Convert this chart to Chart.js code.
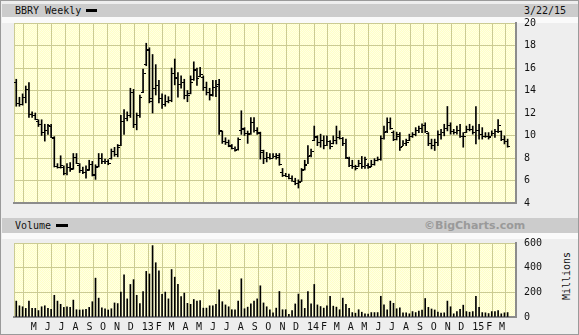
<!DOCTYPE html>
<html>
<head>
<meta charset="utf-8">
<script src="https://cdn.jsdelivr.net/npm/chart.js@4"></script>
<style>
  html, body { margin: 0; padding: 0; }
  body { width: 579px; height: 335px; position: relative; background: #eeeeee; overflow: hidden;
         font-family: 'DejaVu Sans Mono', monospace; font-size: 10px; color: #111; }
  .abs { position: absolute; }
  #frame { left: 0; top: 0; width: 577px; height: 333px; border: 1px solid #9a9a9a; }
  .band { left: 2px; width: 576px; background: #cccccc; }
  .strip { left: 2px; width: 576px; background: #fafafa; }
  .dash { background: #000; }
  canvas { position: absolute; left: 0; }
</style>
</head>
<body>
<div id="frame" class="abs"></div>
<div class="abs band" style="top:4px;height:13px;"></div>
<div class="abs strip" style="top:17px;height:6px;"></div>
<div class="abs" style="left:15px;top:4px;line-height:13px;">BBRY Weekly</div>
<div class="abs dash" style="left:86px;top:9px;width:11px;height:3px;"></div>
<div class="abs" style="left:524px;top:4px;line-height:13px;">3/22/15</div>

<div class="abs band" style="top:218px;height:15px;"></div>
<div class="abs strip" style="top:233px;height:6px;"></div>
<div class="abs" style="left:15px;top:218px;line-height:15px;">Volume</div>
<div class="abs dash" style="left:56px;top:224px;width:12px;height:3px;"></div>
<div class="abs" style="left:424px;top:218px;line-height:15px;font-family:'DejaVu Sans',sans-serif;font-weight:bold;font-size:11px;color:#9a9a9a;">©BigCharts.com</div>
<div class="abs" style="left:542px;top:270px;width:50px;line-height:12px;text-align:center;transform:rotate(-90deg);">Millions</div>

<canvas id="price" width="579" height="217" style="top:0;"></canvas>
<canvas id="volume" width="579" height="106" style="top:229px;"></canvas>

<script>
// weekly bars, first week ending 2012-03-30
const weekStart = '2012-03-30';

const highs = [
  15.0, 13.4, 13.7, 14.4, 14.7, 12.1, 12.0, 11.4, 11.4, 11.0,
  11.0, 11.0, 9.9, 7.5, 8.2, 7.3, 7.5, 7.6, 8.4, 8.4,
  7.5, 7.2, 7.3, 7.8, 7.7, 7.4, 8.4, 8.4, 7.9, 7.85,
  8.8, 8.95, 9.2, 11.8, 12.3, 12.1, 14.2, 14.1, 12.0, 13.6,
  15.9, 18.2, 17.8, 17.2, 16.3, 14.9, 13.7, 13.6, 13.45, 16.0,
  16.8, 15.6, 15.3, 15.0, 14.0, 15.3, 16.55, 16.0, 16.05, 15.3,
  14.75, 14.2, 14.9, 14.9, 15.0, 10.4, 9.8, 9.6, 9.2, 9.0,
  9.8, 12.2, 10.7, 10.4, 11.6, 11.6, 10.7, 10.3, 8.7, 8.5,
  8.4, 8.4, 8.4, 8.4, 7.07, 6.64, 6.58, 6.41, 6.2, 6.06,
  7.07, 7.8, 9.1, 8.8, 10.84, 9.97, 10.12, 9.97, 9.97, 9.54,
  9.97, 10.84, 10.41, 9.83, 9.68, 8.09, 7.8, 7.36, 7.8, 8.14,
  8.09, 7.51, 7.8, 7.94, 8.09, 9.97, 10.84, 11.57, 11.57, 10.41,
  10.3, 10.26, 9.54, 9.68, 10.12, 10.26, 10.7, 10.84, 11.04, 11.13,
  10.26, 9.68, 9.68, 10.41, 10.55, 11.0, 12.58, 11.13, 10.55, 10.84,
  11.0, 10.26, 10.84, 11.0, 10.84, 12.58, 11.0, 10.7, 10.26, 10.26,
  10.41, 10.55, 11.42, 10.41, 9.97, 9.68
];
const lows = [
  12.6, 12.6, 12.7, 12.9, 11.6, 11.6, 11.4, 10.8, 10.0, 9.5,
  10.1, 9.8, 7.2, 7.1, 7.1, 6.5, 6.5, 6.8, 7.0, 7.5,
  6.7, 6.6, 6.2, 6.9, 6.4, 6.1, 7.2, 7.5, 7.5, 7.4,
  7.9, 8.15, 8.1, 9.1, 10.1, 11.3, 11.6, 10.7, 10.5, 11.6,
  13.8, 16.2, 12.9, 12.0, 13.6, 12.9, 12.4, 12.6, 12.9, 13.0,
  14.5, 13.4, 14.2, 13.25, 13.0, 13.7, 14.9, 14.45, 15.2, 14.0,
  13.6, 13.15, 13.5, 13.45, 10.1, 9.3, 9.2, 9.0, 8.8, 8.6,
  8.7, 10.1, 10.0, 9.3, 10.1, 10.3, 10.1, 7.9, 7.5, 7.65,
  7.9, 8.0, 7.9, 7.35, 6.35, 6.35, 6.14, 5.91, 5.62, 5.33,
  5.91, 6.93, 7.5, 8.1, 9.54, 9.1, 8.96, 8.81, 9.1, 8.81,
  9.25, 9.25, 9.68, 9.1, 7.94, 7.22, 7.07, 6.93, 7.22, 7.07,
  7.07, 7.07, 7.22, 7.36, 7.74, 7.8, 9.68, 10.26, 10.55, 9.54,
  9.6, 8.67, 9.1, 9.1, 9.54, 9.83, 9.97, 10.26, 10.26, 10.26,
  9.1, 8.81, 8.67, 9.1, 9.68, 9.97, 10.41, 10.12, 10.12, 10.12,
  9.83, 8.96, 10.26, 10.41, 10.12, 9.25, 9.68, 9.68, 9.83, 9.68,
  9.97, 9.83, 10.26, 9.54, 9.25, 8.96
];
const opens = [
  14.8, 12.9, 12.8, 13.4, 14.1, 11.9, 11.8, 11.3, 11.0, 10.3,
  10.5, 10.8, 9.8, 7.3, 7.2, 7.2, 6.7, 7.2, 7.1, 8.1,
  7.4, 6.9, 6.8, 7.0, 7.5, 6.5, 7.3, 8.0, 7.7, 7.7,
  8.0, 8.6, 8.4, 9.2, 11.3, 11.6, 11.8, 13.9, 11.0, 11.8,
  13.9, 16.4, 17.6, 13.1, 14.2, 14.5, 13.3, 12.8, 13.1, 13.2,
  15.6, 15.1, 14.6, 14.8, 13.6, 13.8, 15.0, 15.8, 15.3, 15.2,
  14.3, 13.9, 13.7, 14.3, 14.6, 10.4, 9.5, 9.4, 9.1, 8.9,
  8.8, 10.5, 10.6, 10.2, 10.2, 11.2, 10.5, 10.2, 8.5, 8.0,
  8.1, 8.0, 8.2, 8.3, 6.8, 6.5, 6.4, 6.2, 6.0, 5.8,
  6.0, 7.0, 7.5, 8.3, 9.6, 9.9, 9.4, 9.6, 9.2, 9.5,
  9.3, 9.6, 9.9, 9.8, 9.3, 8.0, 7.4, 7.3, 7.3, 7.6,
  7.3, 7.4, 7.3, 7.5, 7.8, 7.9, 9.8, 10.4, 11.2, 10.3,
  9.7, 10.0, 9.1, 9.3, 9.6, 10.0, 10.1, 10.5, 10.7, 10.9,
  10.2, 9.3, 9.2, 9.4, 10.1, 10.3, 10.7, 10.9, 10.4, 10.3,
  10.5, 10.0, 10.3, 10.6, 10.6, 10.3, 10.5, 10.1, 10.0, 10.0,
  10.0, 10.2, 10.4, 10.4, 9.7, 9.5
];
const closes = [
  12.9, 12.8, 13.4, 14.1, 11.9, 11.8, 11.5, 11.0, 10.3, 10.5,
  10.9, 9.9, 7.3, 7.2, 7.4, 6.7, 7.2, 7.0, 8.1, 7.6,
  6.9, 6.8, 6.9, 7.5, 6.6, 7.2, 8.0, 7.7, 7.7, 7.6,
  8.6, 8.4, 9.0, 11.3, 11.6, 11.8, 13.9, 11.0, 11.8, 13.4,
  15.6, 17.7, 13.3, 14.2, 14.5, 13.3, 12.8, 13.1, 13.2, 15.6,
  15.2, 14.6, 14.8, 13.6, 13.6, 14.8, 15.9, 15.1, 15.5, 14.3,
  13.9, 13.6, 14.3, 14.4, 10.5, 9.5, 9.4, 9.2, 8.9, 8.7,
  9.7, 10.7, 10.2, 10.1, 11.2, 10.5, 10.3, 8.7, 8.0, 8.1,
  8.0, 8.2, 8.1, 7.5, 6.5, 6.4, 6.2, 6.0, 5.8, 5.9,
  6.9, 7.4, 8.2, 8.6, 10.0, 9.4, 9.6, 9.2, 9.5, 9.1,
  9.6, 9.9, 9.8, 9.3, 8.1, 7.4, 7.3, 7.1, 7.6, 7.3,
  7.9, 7.2, 7.5, 7.8, 7.9, 9.8, 10.3, 11.2, 10.7, 9.7,
  10.1, 9.0, 9.3, 9.4, 10.0, 10.1, 10.5, 10.7, 10.9, 10.4,
  9.3, 9.2, 9.4, 10.1, 10.3, 10.7, 10.9, 10.4, 10.3, 10.5,
  10.0, 10.0, 10.6, 10.6, 10.3, 10.5, 10.1, 10.0, 10.0, 9.9,
  10.2, 10.4, 10.9, 9.7, 9.5, 9.1
];
// millions of shares
const volumes = [
  129, 91, 83, 70, 129, 70, 70, 52, 83, 91,
  70, 62, 176, 129, 103, 78, 83, 78, 137, 59,
  57, 59, 62, 78, 124, 315, 153, 75, 67, 57,
  67, 114, 109, 202, 341, 147, 264, 303, 176, 109,
  207, 370, 349, 579, 440, 375, 184, 202, 147, 385,
  323, 264, 166, 194, 111, 103, 142, 129, 134, 72,
  72, 91, 91, 103, 220, 124, 98, 83, 59, 59,
  129, 310, 67, 80, 106, 129, 147, 253, 114, 83,
  59, 34, 72, 207, 59, 59, 21, 52, 106, 186,
  140, 70, 207, 106, 264, 98, 85, 72, 91, 168,
  88, 80, 59, 153, 103, 70, 36, 31, 59, 39,
  26, 23, 36, 36, 36, 168, 98, 59, 129, 111,
  67, 75, 34, 34, 26, 44, 36, 47, 57, 150,
  78, 65, 57, 39, 31, 34, 129, 83, 26, 44,
  62, 96, 44, 39, 44, 168, 78, 36, 34, 28,
  44, 44, 52, 26, 34, 36
];

const tickMonths = [
  '2012-05', '2012-06', '2012-07', '2012-08', '2012-09', '2012-10', '2012-11', '2012-12',
  '2013-01', '2013-02', '2013-03', '2013-04', '2013-05', '2013-06', '2013-07', '2013-08',
  '2013-09', '2013-10', '2013-11', '2013-12', '2014-01', '2014-02', '2014-03', '2014-04',
  '2014-05', '2014-06', '2014-07', '2014-08', '2014-09', '2014-10', '2014-11', '2014-12',
  '2015-01', '2015-02', '2015-03'
];
const tickLabels = [
  'M', 'J', 'J', 'A', 'S', 'O', 'N', 'D',
  '13', 'F', 'M', 'A', 'M', 'J', 'J', 'A',
  'S', 'O', 'N', 'D', '14', 'F', 'M', 'A',
  'M', 'J', 'J', 'A', 'S', 'O', 'N', 'D',
  '15', 'F', 'M'
];

const MONO = "'DejaVu Sans Mono', monospace";
const GRID = '#cbcb93';
const EDGE = '#8c8c8c';

// x axis is days counted from the first week
const t0 = Date.parse(weekStart + 'T00:00:00Z');
const dayOf = s => Math.round((Date.parse(s + 'T00:00:00Z') - t0) / 86400000);
const weekDays = highs.map((_, i) => i * 7);
const tickDays = tickMonths.map(m => dayOf(m + '-01'));

function dither(ctx) {
  const c = document.createElement('canvas');
  c.width = 2; c.height = 2;
  const g = c.getContext('2d');
  g.fillStyle = '#ffffc6'; g.fillRect(0, 0, 2, 2);
  g.fillStyle = '#ffffe4'; g.fillRect(0, 0, 1, 1); g.fillRect(1, 1, 1, 1);
  return ctx.createPattern(c, 'repeat');
}

const plotBg = {
  id: 'plotBg',
  beforeDraw(chart) {
    const {ctx, chartArea: a} = chart;
    ctx.save();
    ctx.fillStyle = dither(ctx);
    ctx.fillRect(a.left, a.top, a.right - a.left, a.bottom - a.top);
    ctx.fillStyle = GRID;
    ctx.fillRect(a.left, a.top, 1, a.bottom - a.top);
    ctx.restore();
  }
};

const ohlcTicks = {
  id: 'ohlcTicks',
  afterDatasetsDraw(chart) {
    const {ctx, scales: {x, y}} = chart;
    ctx.save();
    ctx.fillStyle = '#000';
    weekDays.forEach((d, i) => {
      const r = Math.round(x.getPixelForValue(d) - 0.5);
      ctx.fillRect(r - 2, Math.round(y.getPixelForValue(opens[i])), 2, 1);
      ctx.fillRect(r + 1, Math.round(y.getPixelForValue(closes[i])), 2, 1);
    });
    ctx.restore();
  }
};

function xAxis(showLabels) {
  return {
    type: 'linear', min: -5, max: 1103.5, offset: false,
    afterBuildTicks: s => { s.ticks = tickDays.map(v => ({value: v})); },
    afterFit: s => { s.height = showLabels ? 18 : 0; },
    grid: {color: GRID, lineWidth: 1, drawTicks: false},
    border: {color: EDGE, width: 2},
    ticks: {
      display: showLabels, autoSkip: false, maxRotation: 0, minRotation: 0,
      align: 'start', padding: 4, color: '#111', font: {family: MONO, size: 10},
      callback: (v, i) => tickLabels[i]
    }
  };
}

function yAxis(min, max, step) {
  return {
    position: 'right', min: min, max: max,
    afterFit: s => { s.width = 63; },
    grid: {color: GRID, lineWidth: 1, drawTicks: false},
    border: {color: EDGE, width: 2},
    ticks: {stepSize: step, padding: 8, color: '#111', font: {family: MONO, size: 10}}
  };
}

const common = {
  responsive: false,
  animation: false,
  events: [],
  plugins: {legend: {display: false}, tooltip: {enabled: false}}
};

new Chart(document.getElementById('price'), {
  type: 'bar',
  data: {
    datasets: [{
      data: weekDays.map((d, i) => ({x: d, y: [lows[i], highs[i]]})),
      backgroundColor: '#000',
      barThickness: 1
    }]
  },
  options: Object.assign({}, common, {
    layout: {padding: {left: 14, top: 23, right: 0, bottom: 10}},
    scales: {x: xAxis(false), y: yAxis(4, 20, 2)}
  }),
  plugins: [plotBg, ohlcTicks]
});

new Chart(document.getElementById('volume'), {
  type: 'bar',
  data: {
    datasets: [{
      data: weekDays.map((d, i) => ({x: d, y: volumes[i]})),
      backgroundColor: '#000',
      barThickness: 1
    }]
  },
  options: Object.assign({}, common, {
    layout: {padding: {left: 14, top: 10, right: 0, bottom: 0}},
    scales: {x: xAxis(true), y: yAxis(0, 600, 200)}
  }),
  plugins: [plotBg]
});
</script>
</body>
</html>
